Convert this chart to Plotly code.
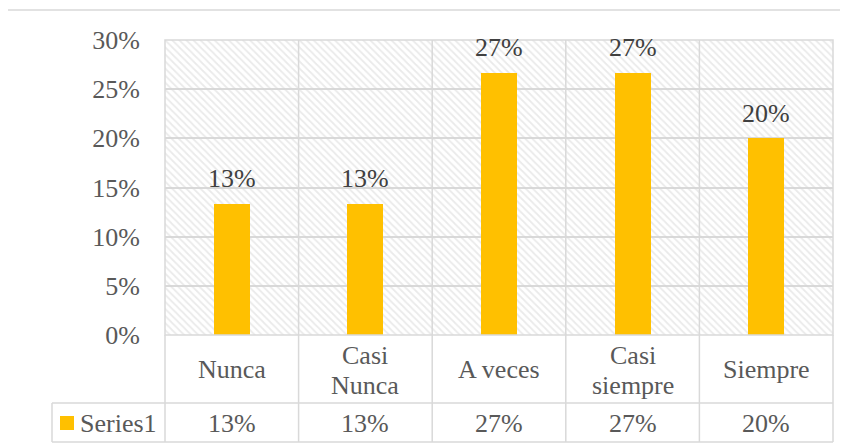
import plotly.graph_objects as go

categories = ["Nunca", "Casi Nunca", "A veces", "Casi siempre", "Siempre"]
category_lines = [["Nunca"], ["Casi", "Nunca"], ["A veces"], ["Casi", "siempre"], ["Siempre"]]
values = [0.1333, 0.1333, 0.2667, 0.2667, 0.20]
value_labels = ["13%", "13%", "27%", "27%", "20%"]
series_name = "Series1"
y_ticks = [0, 0.05, 0.10, 0.15, 0.20, 0.25, 0.30]

OFF = 8  # page body margin
W, H = 848 - OFF, 448 - OFF
L, T = 165 - OFF, 40 - OFF
PW, PH = 668, 295
R, B = W - L - PW, H - T - PH

def px(x):
    return (x - OFF - L) / PW

def py(y):
    return (T + PH - (y - OFF)) / PH

FONT = "Liberation Serif, Times New Roman, serif"
FS = 26
TXT = "#595959"
GRID = "#d9d9d9"
BAR = "#FFC000"

fig = go.Figure()

# hatched plot background
fig.add_trace(go.Bar(
    x=categories, y=[y_ticks[-1]] * len(categories), width=1,
    marker=dict(color="rgba(0,0,0,0)", line=dict(width=0),
                pattern=dict(shape="\\", fgcolor="#d6d6d6", bgcolor="rgba(0,0,0,0)",
                             size=5, solidity=0.35)),
    hoverinfo="skip", showlegend=False,
))

fig.add_trace(go.Bar(
    x=categories, y=values, width=0.27, name=series_name,
    marker=dict(color=BAR, line=dict(width=0)),
    showlegend=False,
))

shapes = []
line = dict(color=GRID, width=1.5)
shapes.append(dict(type="rect", xref="paper", yref="paper", x0=0, x1=1, y0=0, y1=1, line=line))
for i in range(1, len(categories)):
    shapes.append(dict(type="line", xref="x", yref="paper", x0=i - 0.5, x1=i - 0.5,
                       y0=py(442), y1=1, line=line))
shapes.append(dict(type="line", xref="paper", yref="paper", x0=0, x1=0, y0=py(442), y1=0, line=line))
shapes.append(dict(type="line", xref="paper", yref="paper", x0=1, x1=1, y0=py(442), y1=0, line=line))
shapes.append(dict(type="line", xref="paper", yref="paper", x0=px(52), x1=1, y0=py(403), y1=py(403), line=line))
shapes.append(dict(type="line", xref="paper", yref="paper", x0=px(52), x1=1, y0=py(442), y1=py(442), line=line))
shapes.append(dict(type="line", xref="paper", yref="paper", x0=px(52), x1=px(52), y0=py(442), y1=py(403), line=line))
shapes.append(dict(type="rect", xref="paper", yref="paper", x0=px(60), x1=px(74), y0=py(430), y1=py(416),
                   fillcolor=BAR, line=dict(width=0)))
shapes.append(dict(type="line", xref="paper", yref="paper", x0=px(7), x1=px(860), y0=py(10), y1=py(10), line=line))
shapes.append(dict(type="line", xref="paper", yref="paper", x0=px(7), x1=px(7), y0=py(460), y1=py(10), line=line))

annotations = []
# data labels above bars
for c, v, lab in zip(categories, values, value_labels):
    annotations.append(dict(x=c, xref="x", y=v, yref="y", text=lab, showarrow=False, yanchor="middle",
                            yshift=25, font=dict(family=FONT, size=FS, color="#404040")))
for c, lines in zip(categories, category_lines):
    ys = [369] if len(lines) == 1 else [355, 385]
    for lab, yy in zip(lines, ys):
        annotations.append(dict(x=c, xref="x", y=py(yy), yref="paper", text=lab, showarrow=False,
                                font=dict(family=FONT, size=FS, color=TXT), yanchor="middle"))
for c, lab in zip(categories, value_labels):
    annotations.append(dict(x=c, xref="x", y=py(423), yref="paper", text=lab, showarrow=False,
                            font=dict(family=FONT, size=FS, color=TXT), yanchor="middle"))
annotations.append(dict(x=px(78), xref="paper", y=py(423), yref="paper", text=series_name, showarrow=False,
                        xanchor="left", yanchor="middle", font=dict(family=FONT, size=FS, color=TXT)))

fig.update_layout(
    width=W, height=H,
    margin=dict(l=L, r=R, t=T, b=B),
    paper_bgcolor="white", plot_bgcolor="white",
    barmode="overlay", bargap=0,
    shapes=shapes, annotations=annotations,
    xaxis=dict(type="category", range=[-0.5, len(categories) - 0.5], showticklabels=False,
               showgrid=False, zeroline=False, showline=False, ticks=""),
    yaxis=dict(range=[0, 0.30], tickvals=y_ticks, tickformat=".0%", showgrid=True, gridcolor=GRID,
               gridwidth=1.5, zeroline=False, showline=False, ticks="", ticklabelstandoff=24,
               tickfont=dict(family=FONT, size=FS, color=TXT)),
    showlegend=False,
)

fig.write_html("out.html")
